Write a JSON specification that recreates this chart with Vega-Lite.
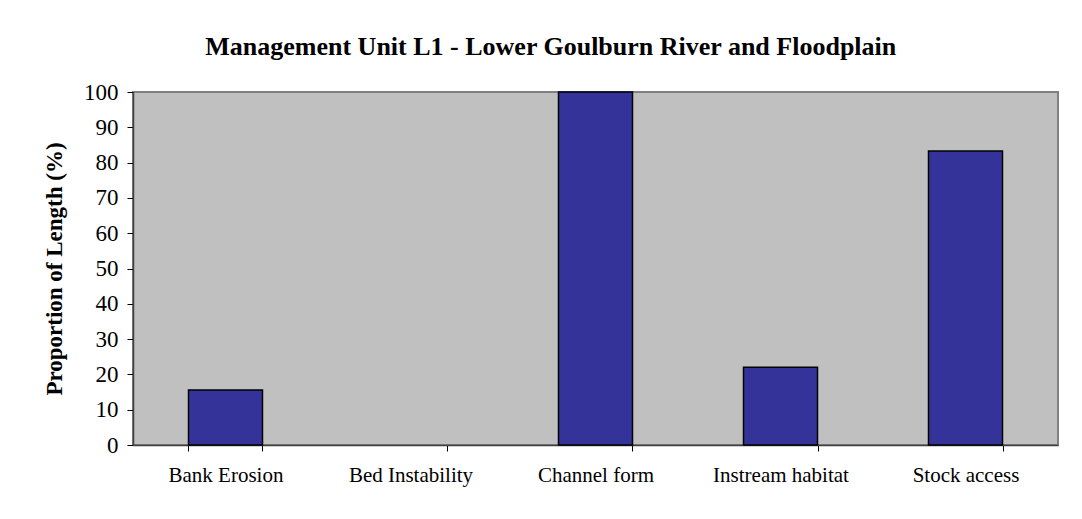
{
  "$schema": "https://vega.github.io/schema/vega-lite/v6.json",
  "autosize": {"type": "none"},
  "width": 925,
  "height": 353,
  "padding": {"left": 133, "top": 92, "right": 24, "bottom": 74},
  "background": "white",
  "title": {
    "text": "Management Unit L1 - Lower Goulburn River and Floodplain",
    "font": "Liberation Serif",
    "fontSize": 26,
    "fontWeight": "bold",
    "color": "black",
    "anchor": "middle",
    "frame": "bounds",
    "offset": 21
  },
  "data": {
    "values": [
      {"category": "Bank Erosion", "value": 15.6},
      {"category": "Bed Instability", "value": 0},
      {"category": "Channel form", "value": 100},
      {"category": "Instream habitat", "value": 22},
      {"category": "Stock access", "value": 83.3}
    ]
  },
  "mark": {"type": "bar", "color": "#333399", "stroke": "black", "strokeWidth": 1.5},
  "encoding": {
    "x": {
      "field": "category",
      "type": "nominal",
      "sort": null,
      "scale": {"paddingInner": 0.6, "paddingOuter": 0.3},
      "axis": {
        "title": null,
        "labelAngle": 0,
        "labelFont": "Liberation Serif",
        "labelFontSize": 21,
        "labelColor": "black",
        "labelPadding": 13,
        "tickBand": "extent",
        "tickSize": 6,
        "tickColor": "black",
        "domainColor": "#404040",
        "domainWidth": 1.5
      }
    },
    "y": {
      "field": "value",
      "type": "quantitative",
      "scale": {"domain": [0, 100], "nice": false},
      "axis": {
        "title": "Proportion of Length (%)",
        "titleFont": "Liberation Serif",
        "titleFontSize": 23,
        "titleFontWeight": "bold",
        "titleColor": "black",
        "titlePadding": 17,
        "values": [0, 10, 20, 30, 40, 50, 60, 70, 80, 90, 100],
        "grid": false,
        "labelFont": "Liberation Serif",
        "labelFontSize": 23,
        "labelColor": "black",
        "labelPadding": 9,
        "tickSize": 6,
        "tickColor": "black",
        "domainColor": "#404040",
        "domainWidth": 1.5
      }
    },
    "strokeOpacity": {
      "condition": {"test": "datum.value > 0", "value": 1},
      "value": 0
    }
  },
  "config": {
    "view": {"fill": "#C0C0C0", "stroke": "#808080", "strokeWidth": 2}
  }
}
